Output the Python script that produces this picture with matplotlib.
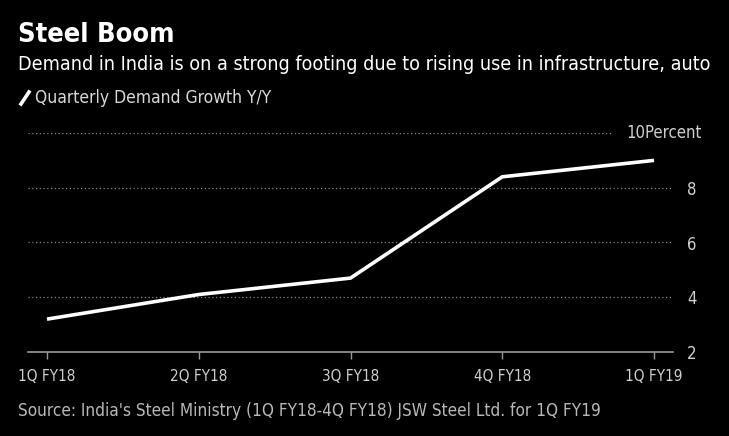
import matplotlib.pyplot as plt
from matplotlib.lines import Line2D

# Data
quarters = ['1Q FY18', '2Q FY18', '3Q FY18', '4Q FY18', '1Q FY19']
growth = [3.2, 4.1, 4.7, 8.4, 9.0]
y_ticks = [2, 4, 6, 8]
grid_levels = [4, 6, 8, 10]

plt.rcParams['font.family'] = ['DejaVu Sans']
plt.rcParams['font.stretch'] = 'condensed'

fig = plt.figure(figsize=(7.29, 4.36), dpi=100, facecolor='black')
ax = fig.add_axes([28 / 729, 1 - 352 / 436, 645 / 729, 219 / 436])
ax.set_facecolor('black')

x = list(range(len(quarters)))
ax.plot(x, growth, color='white', lw=2.6, solid_capstyle='butt', clip_on=False, zorder=3)

ax.set_xlim(-0.125, 4.125)
ax.set_ylim(2, 10)

# dotted grid lines; the top one stops short of its label
for g in grid_levels:
    xmax = 0.905 if g == 10 else 1.0
    ax.axhline(g, xmin=0, xmax=xmax, color='#8a8a8a', lw=0.9, ls=(0, (1, 2)), zorder=1)

for s in ['top', 'left', 'right']:
    ax.spines[s].set_visible(False)
ax.spines['bottom'].set_color('#9a9a9a')
ax.spines['bottom'].set_linewidth(1.2)

ax.set_xticks(x)
ax.set_xticklabels(quarters)
ax.tick_params(axis='x', colors='#9a9a9a', length=5, width=1, labelcolor='#d0d0d0',
               labelsize=11, pad=7)
ax.yaxis.tick_right()
ax.set_yticks(y_ticks)
ax.tick_params(axis='y', length=0, labelcolor='#d0d0d0', labelsize=12, pad=10)
ax.text(702 / 729, 1 - 133 / 436, '10Percent', transform=fig.transFigure, ha='right',
        va='center', color='#d0d0d0', fontsize=12)

fig.text(18 / 729, 1 - 35 / 436, 'Steel Boom', color='white', fontsize=19.5,
         fontweight='bold', va='center')
fig.text(18 / 729, 1 - 64 / 436,
         'Demand in India is on a strong footing due to rising use in infrastructure, auto',
         color='white', fontsize=14.1, va='center')

# legend
fig.add_artist(Line2D([21 / 729, 29 / 729], [1 - 104 / 436, 1 - 92 / 436], color='white',
                      lw=2.6, transform=fig.transFigure))
fig.text(35 / 729, 1 - 98 / 436, 'Quarterly Demand Growth Y/Y', color='#d8d8d8',
         fontsize=12.5, va='center')

fig.text(18 / 729, 1 - 411 / 436,
         "Source: India's Steel Ministry (1Q FY18-4Q FY18) JSW Steel Ltd. for 1Q FY19",
         color='#b8b8b8', fontsize=12.3, va='center')

fig.savefig('out.png', dpi=100, facecolor='black')
